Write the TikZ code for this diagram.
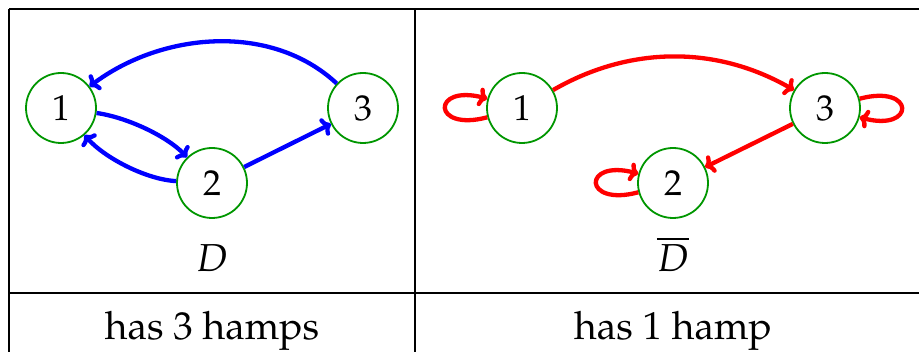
\documentclass[tikz,border=0pt]{standalone}
\usepackage[T1]{fontenc}
\usepackage{mathpazo}
\usetikzlibrary{arrows.meta}
\definecolor{vgreen}{RGB}{0,150,0}
\tikzset{
  vert/.style={circle, draw=vgreen, line width=1.8pt, minimum size=70pt, inner sep=0pt, font=\fontsize{36}{40}\selectfont},
  tipstyle/.style={-{To[length=9pt,width=19pt,round]}},
  blueedge/.style={draw=blue, line width=4.3pt, tipstyle},
  rededge/.style={draw=red, line width=4.3pt, tipstyle},
  rule/.style={draw=black, line width=1.2pt},
  lbl/.style={font=\fontsize{39}{44}\selectfont, anchor=base, inner sep=0pt},
}
\begin{document}
\begin{tikzpicture}[x=1pt,y=1pt]
\useasboundingbox (0,0) rectangle (919,-352);
% table rules
\coordinate (tl) at (9,-9);
\coordinate (tr) at (925,-9);
\coordinate (ml) at (9,-293);
\coordinate (mr) at (925,-293);
\coordinate (bl) at (9,-360);
\coordinate (mt) at (415,-9);
\coordinate (mb) at (415,-360);
\draw[rule] (tl) -- (tr);
\draw[rule] (ml) -- (mr);
\draw[rule] (tl) -- (bl);
\draw[rule] (mt) -- (mb);
% left graph D
\node[vert] (a1) at (61,-108) {1};
\node[vert] (a2) at (212,-183) {2};
\node[vert] (a3) at (363,-108) {3};
\draw[blueedge] (a3) to[out=137,in=37,distance=90pt] (a1);
\draw[blueedge] (a1) to[out=-8,in=134,distance=30pt] (a2);
\draw[blueedge] (a2) to[out=177,in=-49,distance=30pt] (a1);
\draw[blueedge] (a2) -- (a3);
\node[lbl] (dl) at (212,-271.5) {$D$};
% right graph complement
\node[vert] (b1) at (522,-108) {1};
\node[vert] (b2) at (673,-183) {2};
\node[vert] (b3) at (825,-108) {3};
\draw[rededge] (b1) to[out=30,in=150,distance=89pt] (b3);
\draw[rededge] (b3) -- (b2);
\draw[rededge] (b1) to[out=195,in=165,distance=58pt] (b1);
\draw[rededge] (b2) to[out=195,in=165,distance=58pt] (b2);
\draw[rededge] (b3) to[out=15,in=-15,distance=58pt] (b3);
\node[lbl] (dr) at (673,-271.5) {$\overline{D}$};
% bottom row
\node[lbl] (t1) at (212,-340) {has 3 hamps};
\node[lbl] (t2) at (673,-340) {has 1 hamp};
\end{tikzpicture}
\end{document}
